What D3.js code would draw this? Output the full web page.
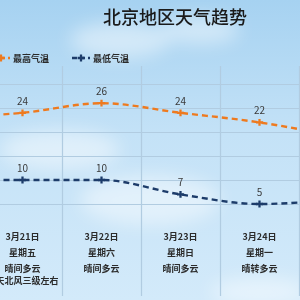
<!DOCTYPE html>
<meta charset="utf-8">
<style>

body {
  margin: 0;
  overflow: hidden;
}

text {
  font-family: "Noto Sans CJK SC", sans-serif;
}

</style>
<body>
<script src="https://d3js.org/d3.v7.min.js"></script>
<script>

var width = 300,
    height = 300;

// one day before and after the visible window, the lines run off the edges
var dates = ["3月20日", "3月21日", "3月22日", "3月23日", "3月24日", "3月25日"];
var weekdays = ["星期四", "星期五", "星期六", "星期日", "星期一", "星期二"];
var weather = ["晴间多云", "晴间多云", "晴间多云", "晴间多云", "晴转多云", "多云"];
var wind = ["", "白天北风三级左右", "", "", "", ""];
var highTemps = [23, 24, 26, 24, 22, 19];
var lowTemps = [10, 10, 10, 7, 5, 6];
var gridTemps = [30, 25, 20, 15, 10, 5];

var svg = d3.select("body").append("svg")
    .attr("width", width)
    .attr("height", height);

var defs = svg.append("defs");

var sky = defs.append("linearGradient")
    .attr("id", "sky")
    .attr("x1", "0%").attr("y1", "0%")
    .attr("x2", "0%").attr("y2", "100%");
sky.append("stop").attr("offset", "0%").attr("stop-color", "#a6d2f1");
sky.append("stop").attr("offset", "45%").attr("stop-color", "#c4e2f7");
sky.append("stop").attr("offset", "100%").attr("stop-color", "#d3eafa");

defs.append("filter")
    .attr("id", "blur")
  .append("feGaussianBlur")
    .attr("stdDeviation", 9);

svg.append("rect")
    .attr("width", width)
    .attr("height", height)
    .attr("fill", "url(#sky)");

// soft clouds
var clouds = [[120, 40, 50, 18], [200, 30, 40, 14], [60, 150, 60, 20], [260, 292, 50, 14], [150, 200, 70, 25]];
svg.append("g")
    .attr("filter", "url(#blur)")
  .selectAll("ellipse")
    .data(clouds)
  .enter().append("ellipse")
    .attr("cx", function(d) { return d[0]; })
    .attr("cy", function(d) { return d[1]; })
    .attr("rx", function(d) { return d[2]; })
    .attr("ry", function(d) { return d[3]; })
    .attr("fill", "#fff")
    .attr("opacity", 0.45);

var x = d3.scaleBand()
    .domain(dates)
    .range([-96, 378]);

var y = d3.scaleLinear()
    .domain([5, 30])
    .range([204, 84]);

function cx(i) { return x(dates[i]) + x.bandwidth() / 2; }
function visible(d, i) { var c = cx(i); return c > 0 && c < width; }

// grid
var grid = svg.append("g")
    .attr("stroke", "#b1cce1")
    .attr("stroke-width", 1.2);

grid.selectAll("line.h")
    .data(gridTemps)
  .enter().append("line")
    .attr("class", "h")
    .attr("x1", 0)
    .attr("x2", width)
    .attr("y1", function(d) { return y(d) + 0.5; })
    .attr("y2", function(d) { return y(d) + 0.5; });

grid.selectAll("line.v")
    .data(dates.slice(1))
  .enter().append("line")
    .attr("class", "v")
    .attr("x1", function(d) { return Math.round(x(d)) + 0.5; })
    .attr("x2", function(d) { return Math.round(x(d)) + 0.5; })
    .attr("y1", 66)
    .attr("y2", 296);

// title
svg.append("text")
    .attr("x", 175)
    .attr("y", 24)
    .attr("text-anchor", "middle")
    .attr("font-size", 18)
    .attr("font-weight", 500)
    .attr("fill", "#1a1a1a")
    .text("北京地区天气趋势");

var series = [
  {name: "最高气温", values: highTemps, color: "#ee7a1f", legendX: -8},
  {name: "最低气温", values: lowTemps, color: "#1d3c6a", legendX: 72}
];

var line = d3.line()
    .x(function(d, i) { return cx(i); })
    .y(function(d) { return y(d); })
    .curve(d3.curveMonotoneX);

var marker = d3.symbol().type(d3.symbolCross).size(26);

series.forEach(function(s) {
  var g = svg.append("g");

  g.append("path")
      .attr("d", line(s.values))
      .attr("fill", "none")
      .attr("stroke", s.color)
      .attr("stroke-width", 2.4)
      .attr("stroke-dasharray", "6,4");

  g.selectAll("path.pt")
      .data(s.values)
    .enter().append("path")
      .attr("class", "pt")
      .attr("d", marker)
      .attr("fill", s.color)
      .attr("transform", function(d, i) {
        return "translate(" + cx(i) + "," + y(d) + ")";
      });

  g.selectAll("text")
      .data(s.values.filter(visible))
    .enter().append("text")
      .attr("x", function(d, i) { return cx(i + 1); })
      .attr("y", function(d) { return y(d) - 8; })
      .attr("text-anchor", "middle")
      .attr("font-size", 10)
      .attr("fill", "#3a3a3a")
      .text(function(d) { return d; });

  // legend
  var lg = svg.append("g")
      .attr("transform", "translate(" + s.legendX + ",58)");
  lg.append("line")
      .attr("x1", 0).attr("x2", 18)
      .attr("stroke", s.color)
      .attr("stroke-width", 2.4)
      .attr("stroke-dasharray", "5,3");
  lg.append("path")
      .attr("d", marker)
      .attr("fill", s.color)
      .attr("transform", "translate(9,0)");
  lg.append("text")
      .attr("x", 21)
      .attr("y", 3.5)
      .attr("font-size", 9)
      .attr("font-weight", "bold")
      .attr("fill", "#2a2a2a")
      .text(s.name);
});

// day labels under the chart
var rows = [
  {values: dates, y: 240},
  {values: weekdays, y: 256},
  {values: weather, y: 272},
  {values: wind, y: 284}
];

rows.forEach(function(r) {
  svg.append("g").selectAll("text")
      .data(r.values.filter(visible))
    .enter().append("text")
      .attr("x", function(d, i) { return cx(i + 1); })
      .attr("y", r.y)
      .attr("text-anchor", "middle")
      .attr("font-size", 9)
      .attr("font-weight", "bold")
      .attr("fill", "#2b2b2b")
      .text(function(d) { return d; });
});

</script>
